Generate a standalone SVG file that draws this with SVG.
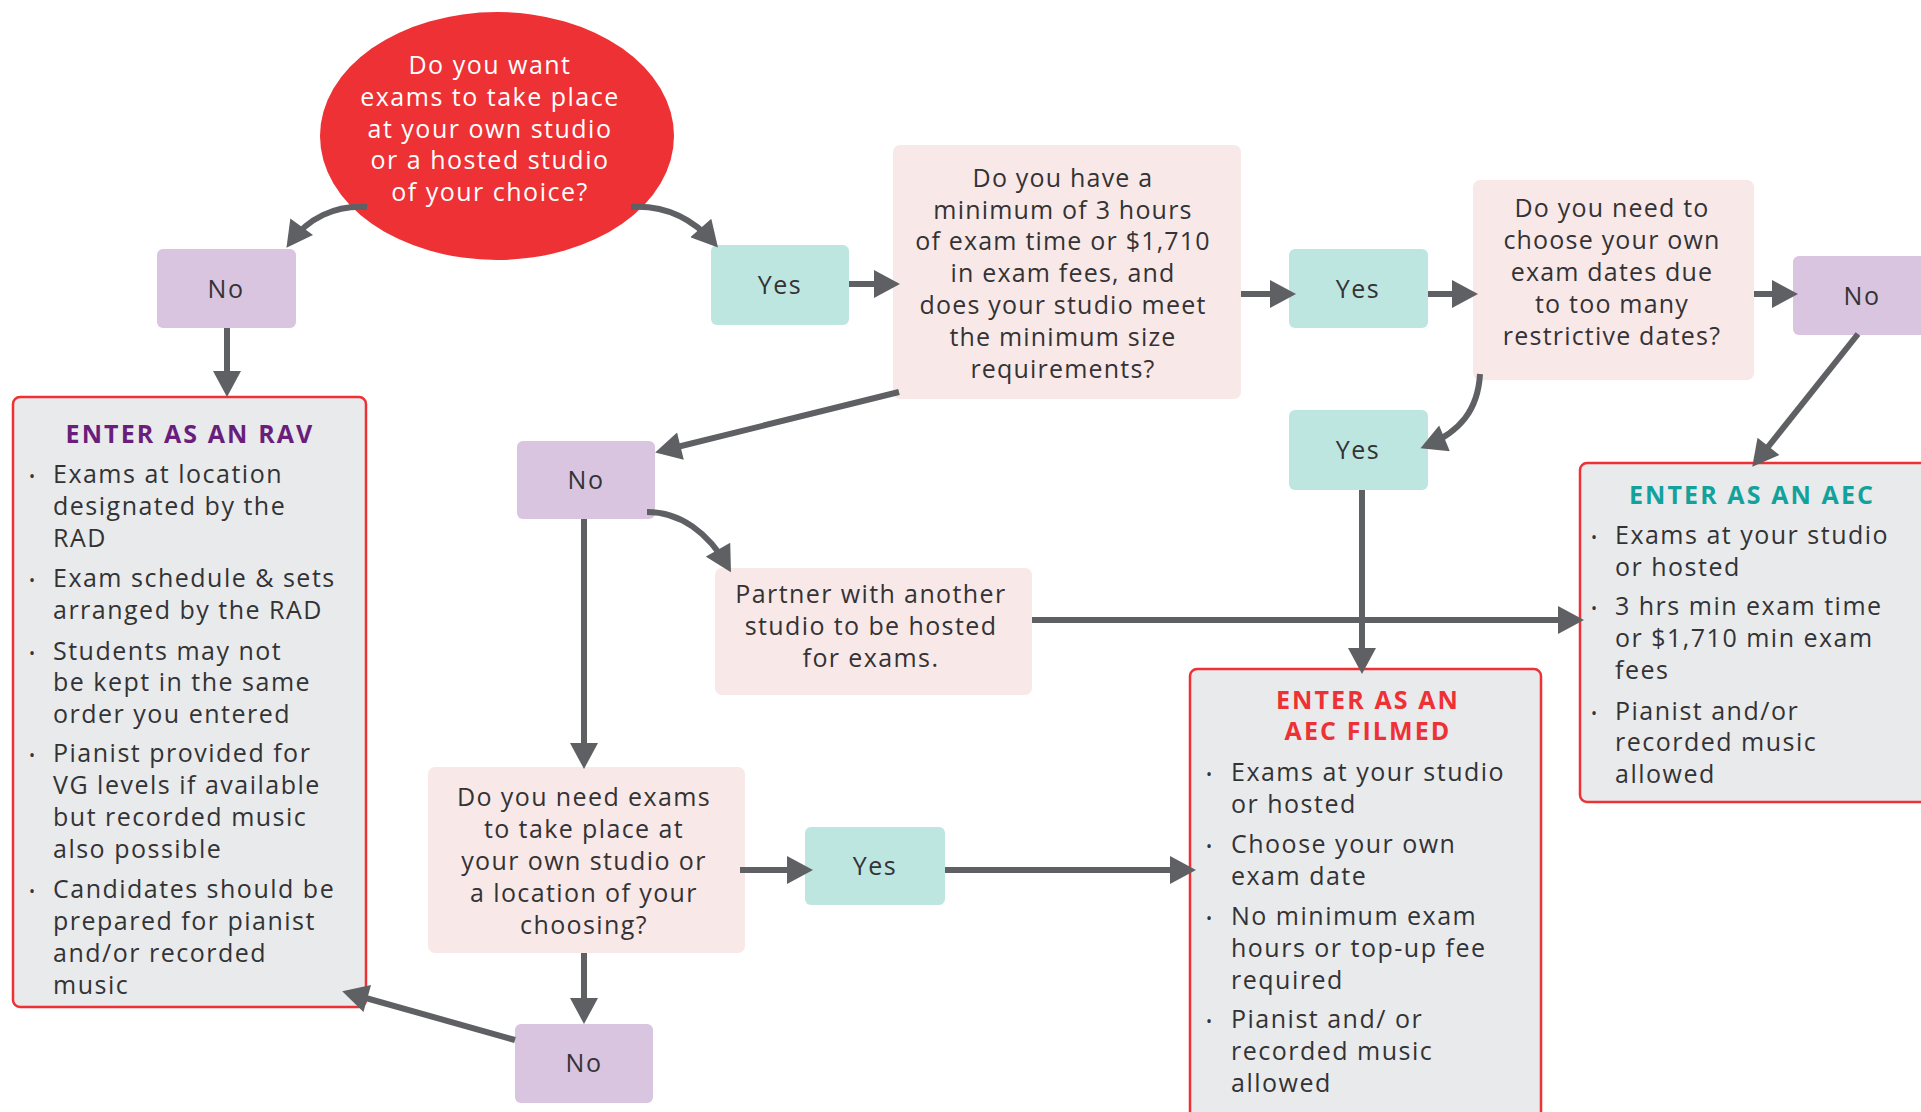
<svg xmlns="http://www.w3.org/2000/svg" width="1921" height="1112" viewBox="0 0 1921 1112">
<defs>
<marker id="ah" markerUnits="userSpaceOnUse" markerWidth="28" markerHeight="28" viewBox="0 0 26 28" refX="20" refY="14" orient="auto">
<path d="M0,0 L26,14 L0,28 z" fill="#5F6063"/>
</marker>
<style>
.t{font-family:"Open Sans","Liberation Sans",sans-serif;font-size:25px;letter-spacing:1.4px;fill:#333335;text-anchor:middle}
.cq{letter-spacing:1.2px}
.w{fill:#ffffff;letter-spacing:1.5px}
.lbl{letter-spacing:1.5px}
.b{font-family:"Open Sans","Liberation Sans",sans-serif;font-size:25px;letter-spacing:1.5px;fill:#333335}
.dot{font-family:"Open Sans","Liberation Sans",sans-serif;font-size:16px;fill:#333335}
.ttl{font-family:"Open Sans","Liberation Sans",sans-serif;font-size:25px;letter-spacing:2.1px;font-weight:700;text-anchor:middle}
.no{fill:#D9C5E0}
.yes{fill:#BEE6E1}
.q{fill:#F9E8E8}
.res{fill:#E9EAEC;stroke:#EE3134;stroke-width:2.5}
.c{fill:none;stroke:#5F6063;stroke-width:6;marker-end:url(#ah)}
</style>
</defs>
<rect width="1921" height="1112" fill="#ffffff"/>

<g id="start">
<ellipse cx="497" cy="136" rx="177" ry="124" fill="#EE3134"/>
<text class="t w"><tspan x="490" y="74">Do you want</tspan><tspan x="490" y="106">exams to take place</tspan><tspan x="490" y="138">at your own studio</tspan><tspan x="490" y="169">or a hosted studio</tspan><tspan x="490" y="201">of your choice?</tspan></text>
</g>

<g id="no1">
<rect class="no" x="157" y="249" width="139" height="79" rx="6"/>
<text class="t lbl" x="226" y="298">No</text>
</g>

<g id="yes1">
<rect class="yes" x="711" y="245" width="138" height="80" rx="6"/>
<text class="t lbl" x="780" y="294">Yes</text>
</g>

<g id="q1">
<rect class="q" x="893" y="145" width="348" height="254" rx="7"/>
<text class="t cq"><tspan x="1063" y="187">Do you have a</tspan><tspan x="1063" y="219">minimum of 3 hours</tspan><tspan x="1063" y="250">of exam time or $1,710</tspan><tspan x="1063" y="282">in exam fees, and</tspan><tspan x="1063" y="314">does your studio meet</tspan><tspan x="1063" y="346">the minimum size</tspan><tspan x="1063" y="378">requirements?</tspan></text>
</g>

<g id="yes2">
<rect class="yes" x="1289" y="249" width="139" height="79" rx="6"/>
<text class="t lbl" x="1358" y="298">Yes</text>
</g>

<g id="q2">
<rect class="q" x="1473" y="180" width="281" height="200" rx="7"/>
<text class="t cq"><tspan x="1612" y="217">Do you need to</tspan><tspan x="1612" y="249">choose your own</tspan><tspan x="1612" y="281">exam dates due</tspan><tspan x="1612" y="313">to too many</tspan><tspan x="1612" y="345">restrictive dates?</tspan></text>
</g>

<g id="no2">
<rect class="no" x="1793" y="256" width="140" height="79" rx="6"/>
<text class="t lbl" x="1862" y="305">No</text>
</g>

<g id="yes3">
<rect class="yes" x="1289" y="410" width="139" height="80" rx="6"/>
<text class="t lbl" x="1358" y="459">Yes</text>
</g>

<g id="aec">
<rect class="res" x="1580" y="463" width="350" height="339" rx="7"/>
<text class="ttl" x="1752" y="504" fill="#12A29B">ENTER AS AN AEC</text>
<text class="dot" x="1591" y="543">•</text>
<text class="b"><tspan x="1615" y="544">Exams at your studio</tspan><tspan x="1615" y="576">or hosted</tspan></text>
<text class="dot" x="1591" y="614">•</text>
<text class="b"><tspan x="1615" y="615">3 hrs min exam time</tspan><tspan x="1615" y="647">or $1,710 min exam</tspan><tspan x="1615" y="679">fees</tspan></text>
<text class="dot" x="1591" y="719">•</text>
<text class="b"><tspan x="1615" y="720">Pianist and/or</tspan><tspan x="1615" y="751">recorded music</tspan><tspan x="1615" y="783">allowed</tspan></text>
</g>

<g id="no3">
<rect class="no" x="517" y="441" width="138" height="78" rx="6"/>
<text class="t lbl" x="586" y="489">No</text>
</g>

<g id="partner">
<rect class="q" x="715" y="568" width="317" height="127" rx="7"/>
<text class="t"><tspan x="871" y="603">Partner with another</tspan><tspan x="871" y="635">studio to be hosted</tspan><tspan x="871" y="667">for exams.</tspan></text>
</g>

<g id="q3">
<rect class="q" x="428" y="767" width="317" height="186" rx="7"/>
<text class="t"><tspan x="584" y="806">Do you need exams</tspan><tspan x="584" y="838">to take place at</tspan><tspan x="584" y="870">your own studio or</tspan><tspan x="584" y="902">a location of your</tspan><tspan x="584" y="934">choosing?</tspan></text>
</g>

<g id="yes4">
<rect class="yes" x="805" y="827" width="140" height="78" rx="6"/>
<text class="t lbl" x="875" y="875">Yes</text>
</g>

<g id="no4">
<rect class="no" x="515" y="1024" width="138" height="79" rx="6"/>
<text class="t lbl" x="584" y="1072">No</text>
</g>

<g id="rav">
<rect class="res" x="13" y="397" width="353" height="610" rx="7"/>
<text class="ttl" x="190" y="443" fill="#6A1E7C">ENTER AS AN RAV</text>
<text class="dot" x="29" y="482">•</text>
<text class="b"><tspan x="53" y="483">Exams at location</tspan><tspan x="53" y="515">designated by the</tspan><tspan x="53" y="547">RAD</tspan></text>
<text class="dot" x="29" y="586">•</text>
<text class="b"><tspan x="53" y="587">Exam schedule &amp; sets</tspan><tspan x="53" y="619">arranged by the RAD</tspan></text>
<text class="dot" x="29" y="659">•</text>
<text class="b"><tspan x="53" y="660">Students may not</tspan><tspan x="53" y="691">be kept in the same</tspan><tspan x="53" y="723">order you entered</tspan></text>
<text class="dot" x="29" y="761">•</text>
<text class="b"><tspan x="53" y="762">Pianist provided for</tspan><tspan x="53" y="794">VG levels if available</tspan><tspan x="53" y="826">but recorded music</tspan><tspan x="53" y="858">also possible</tspan></text>
<text class="dot" x="29" y="897">•</text>
<text class="b"><tspan x="53" y="898">Candidates should be</tspan><tspan x="53" y="930">prepared for pianist</tspan><tspan x="53" y="962">and/or recorded</tspan><tspan x="53" y="994">music</tspan></text>
</g>

<g id="filmed">
<rect class="res" x="1190" y="669" width="351" height="460" rx="7"/>
<text class="ttl" fill="#EE3134"><tspan x="1368" y="709">ENTER AS AN</tspan><tspan x="1368" y="740">AEC FILMED</tspan></text>
<text class="dot" x="1206" y="780">•</text>
<text class="b"><tspan x="1231" y="781">Exams at your studio</tspan><tspan x="1231" y="813">or hosted</tspan></text>
<text class="dot" x="1206" y="852">•</text>
<text class="b"><tspan x="1231" y="853">Choose your own</tspan><tspan x="1231" y="885">exam date</tspan></text>
<text class="dot" x="1206" y="924">•</text>
<text class="b"><tspan x="1231" y="925">No minimum exam</tspan><tspan x="1231" y="957">hours or top-up fee</tspan><tspan x="1231" y="989">required</tspan></text>
<text class="dot" x="1206" y="1027">•</text>
<text class="b"><tspan x="1231" y="1028">Pianist and/ or</tspan><tspan x="1231" y="1060">recorded music</tspan><tspan x="1231" y="1092">allowed</tspan></text>
</g>

<g id="connectors">
<path class="c" d="M367,207 C335,205 308,218 290,243"/>
<path class="c" d="M631,207 C665,205 692,218 714,243"/>
<path class="c" d="M227,328 L227,391"/>
<path class="c" d="M849,284 L894,284"/>
<path class="c" d="M1241,294 L1290,294"/>
<path class="c" d="M1428,294 L1472,294"/>
<path class="c" d="M1754,294 L1792,294"/>
<path class="c" d="M1480,374 C1478,410 1460,432 1426,446"/>
<path class="c" d="M1858,334 L1756,462"/>
<path class="c" d="M899,392 L661,451"/>
<path class="c" d="M647,512 C680,512 708,532 728,567"/>
<path class="c" d="M584,519 L584,763"/>
<path class="c" d="M1032,620 L1578,620"/>
<path class="c" d="M1362,490 L1362,668"/>
<path class="c" d="M740,870 L807,870"/>
<path class="c" d="M945,870 L1190,870"/>
<path class="c" d="M584,953 L584,1018"/>
<path class="c" d="M515,1040 L348,993"/>
</g>
</svg>
